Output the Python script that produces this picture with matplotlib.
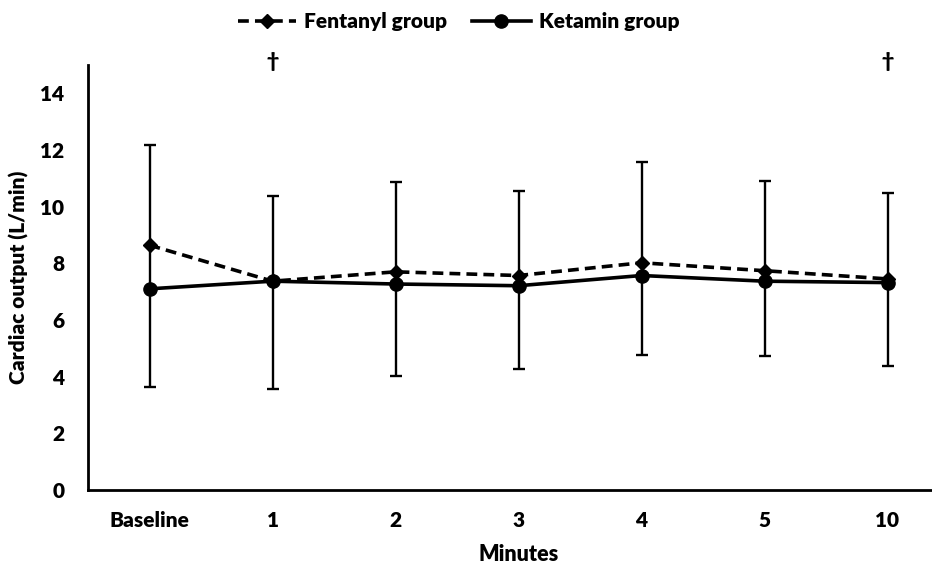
import matplotlib.pyplot as plt
import numpy as np

plt.rcParams.update({
    "font.family": ["Lato", "DejaVu Sans"],
    "font.weight": "heavy",
})

categories = ['Baseline', '1', '2', '3', '4', '5', '10']
fentanyl = [8.64, 7.37, 7.70, 7.57, 8.02, 7.74, 7.45]
ketamin = [7.10, 7.37, 7.27, 7.21, 7.57, 7.37, 7.32]
err_top = [12.16, 10.37, 10.86, 10.56, 11.57, 10.91, 10.47]
err_bottom = [3.62, 3.56, 4.02, 4.26, 4.77, 4.73, 4.38]
dagger_at = ['1', '10']

x = np.arange(len(categories))
ket = np.array(ketamin)
yerr = [ket - np.array(err_bottom), np.array(err_top) - ket]

fig = plt.figure(figsize=(9.32, 5.71), dpi=100)
# plot area runs past the right edge, as in the original
ax = fig.add_axes([88 / 932, 81 / 571, 861 / 932, 425 / 571])

ax.errorbar(x, ket, yerr=yerr, fmt='none', ecolor='black', elinewidth=1.7,
            capsize=4.5, capthick=1.7, zorder=2)
ax.plot(x, fentanyl, '--', color='black', lw=2.6, dashes=(3, 1.7),
        marker='D', ms=7, label='Fentanyl group', zorder=3)
ax.plot(x, ketamin, '-', color='black', lw=2.6, marker='o', ms=9.5,
        label='Ketamin group', zorder=4)

for lab in dagger_at:
    ax.text(categories.index(lab), 15.14, '\u2020', ha='center', va='center',
            fontsize=15, fontweight='heavy', clip_on=False)

ax.set_xlim(-0.5, 6.5)
ax.set_ylim(0, 15)
ax.set_yticks(range(0, 15, 2))
ax.set_xticks(x)
ax.set_xticklabels(categories)
ax.tick_params(axis='both', length=0, labelsize=15, width=0)
ax.tick_params(axis='x', pad=15)
ax.tick_params(axis='y', pad=17)
for s in ['top', 'right']:
    ax.spines[s].set_visible(False)
for s in ['left', 'bottom']:
    ax.spines[s].set_linewidth(2)

ax.set_xlabel('Minutes', fontsize=15.5, fontweight='heavy', labelpad=10)
ax.set_ylabel('Cardiac output (L/min)', fontsize=15, fontweight='heavy', labelpad=8)

fig.legend(loc='upper center', bbox_to_anchor=(0.492, 1.012), ncol=2, frameon=False,
           fontsize=15, handlelength=2.8, columnspacing=1.2, handletextpad=0.4)

plt.savefig('out.png', dpi=100)
